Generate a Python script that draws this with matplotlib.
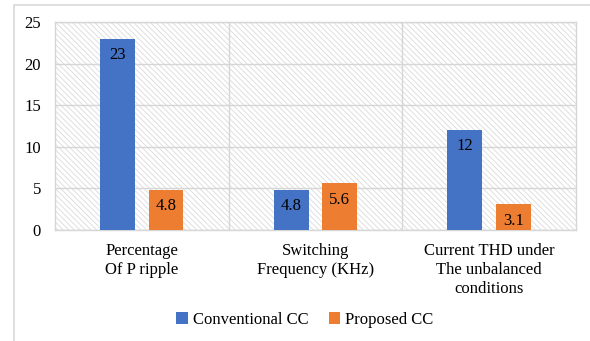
import matplotlib
matplotlib.use('Agg')
import matplotlib.pyplot as plt
import numpy as np
from matplotlib.patches import Rectangle

categories = ['Percentage\nOf P ripple',
              'Switching\nFrequency (KHz)',
              'Current THD under\nThe unbalanced\nconditions']
conventional = [23, 4.8, 12]
proposed = [4.8, 5.6, 3.1]
series_names = ['Conventional CC', 'Proposed CC']
y_ticks = [0, 5, 10, 15, 20, 25]

plt.rcParams['font.family'] = ['Liberation Serif', 'DejaVu Serif']
plt.rcParams['hatch.color'] = '#dadada'
plt.rcParams['hatch.linewidth'] = 0.6

fig = plt.figure(figsize=(5.9, 3.41), dpi=100)
ax = fig.add_axes([0.0932, 0.3255, 0.8830, 0.6100])

# light diagonal hatch behind the plot area
bg = Rectangle((0, 0), 1, 1, transform=ax.transAxes, facecolor='white',
               edgecolor='#dadada', hatch='\\' * 6, linewidth=0, zorder=0)
ax.add_patch(bg)

x = np.arange(len(categories))
w = 0.2
off = 0.14
b1 = ax.bar(x - off, conventional, w, color='#4472C4', zorder=3, label=series_names[0])
b2 = ax.bar(x + off, proposed, w, color='#ED7D31', zorder=3, label=series_names[1])

for bars, vals in ((b1, conventional), (b2, proposed)):
    for rect, v in zip(bars, vals):
        ax.annotate('{:g}'.format(v), (rect.get_x() + rect.get_width() / 2, v),
                    xytext=(0, -6), textcoords='offset points',
                    ha='center', va='top', fontsize=12, color='black', zorder=4)

ax.set_xlim(-0.5, 2.5)
ax.set_ylim(0, 25)
ax.set_yticks(y_ticks)
ax.set_xticks(x)
ax.set_xticklabels(categories, fontsize=12, linespacing=1.25)
ax.set_xticks([0.5, 1.5], minor=True)
ax.tick_params(axis='both', which='both', length=0)
ax.tick_params(axis='y', labelsize=12, pad=10)
ax.tick_params(axis='x', pad=9)
ax.grid(axis='y', color='#d6d6d6', linewidth=1, zorder=1)
ax.grid(axis='x', which='minor', color='#d6d6d6', linewidth=1, zorder=1)
ax.set_axisbelow(True)
for s in ax.spines.values():
    s.set_color('#d6d6d6')
    s.set_linewidth(1)

fig.legend(handles=[b1, b2], labels=series_names, loc='center',
           bbox_to_anchor=(305 / 590, 1 - 320 / 341), ncol=2, frameon=False,
           fontsize=12, handlelength=0.7, handleheight=0.7, handletextpad=0.3,
           columnspacing=1.2)

# thin frame around the chart
fig.patches.append(Rectangle((14 / 590, -0.01), 1.0, 1 - 5 / 341 + 0.01,
                             transform=fig.transFigure, fill=False,
                             edgecolor='#d9d9d9', linewidth=1.2))

fig.savefig('out.png', dpi=100)
